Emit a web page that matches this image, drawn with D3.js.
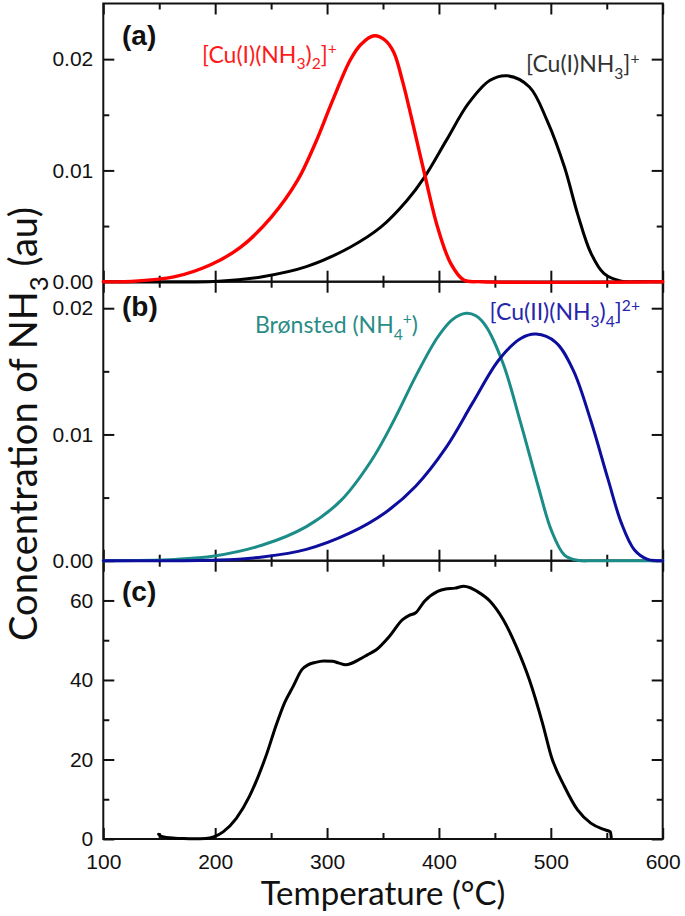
<!DOCTYPE html>
<html><head><meta charset="utf-8">
<script src="https://cdn.jsdelivr.net/npm/d3@7"></script>
<style>html,body{margin:0;padding:0;background:#fff;} svg{display:block}</style>
</head><body>
<svg id="chart" width="685" height="916"></svg>
<script>
// ---------- data ----------
const xTicks = [100, 200, 300, 400, 500, 600];
const xMinorTicks = [150, 250, 350, 450, 550];
const yTicksAB = [0, 0.01, 0.02];
const yMinorAB = [0.005, 0.015];
const yTicksC = [0, 20, 40, 60];
const yMinorC = [10, 30, 50];

// (a) [Cu(I)(NH3)2]+
const cuI2_T = [100, 125, 164, 195.4, 222.8, 250.2, 273.6, 289.3, 305, 320.6, 330, 342.1, 351.9, 359.7, 367.5, 375.3, 387.1, 398.8, 410.5, 422.2, 437.9, 600];
const cuI2_V = [0, 0.00002, 0.00045, 0.0015, 0.0031, 0.0058, 0.0091, 0.0124, 0.0163, 0.0199, 0.0213, 0.0221, 0.0217, 0.0206, 0.0180, 0.0148, 0.0097, 0.0049, 0.00165, 0.00015, 0, 0];
// (a) [Cu(I)NH3]+
const cuI1_T = [100, 203.2, 242.3, 281.5, 320.6, 348, 371.4, 387.1, 406.6, 426.2, 445.7, 461.4, 480.9, 496.6, 512.2, 523.9, 535.7, 547.4, 563, 580, 600];
const cuI1_V = [0, 0.00005, 0.00045, 0.00135, 0.0031, 0.0049, 0.0073, 0.0094, 0.0127, 0.0160, 0.0181, 0.0185, 0.0175, 0.0145, 0.0103, 0.0061, 0.0026, 0.00075, 0.00005, 0, 0];
// (b) Brønsted (NH4+)
const bron_T = [100, 164.1, 199.3, 242.3, 281.5, 312.7, 340.1, 359.7, 379.2, 398.8, 412, 424.2, 433, 441.8, 457.4, 473.1, 488.7, 500.5, 512.2, 523.9, 540, 600];
const bron_V = [0, 0.0001, 0.00037, 0.00124, 0.0027, 0.0048, 0.0080, 0.0111, 0.0146, 0.0177, 0.0191, 0.0196, 0.0194, 0.0186, 0.0156, 0.0109, 0.0059, 0.0024, 0.00045, 0.00003, 0, 0];
// (b) [Cu(II)(NH3)4]2+
const cuII_T = [100, 203.2, 242.3, 281.5, 320.6, 351.9, 379.2, 406.6, 430.1, 453.5, 473.1, 486.8, 504.4, 520, 535.7, 551.3, 563, 574.8, 586.5, 594.3, 600];
const cuII_V = [0, 0.00005, 0.0003, 0.0009, 0.0022, 0.0038, 0.0059, 0.0090, 0.0125, 0.0159, 0.0176, 0.01795, 0.0173, 0.0151, 0.0111, 0.0064, 0.0030, 0.00085, 0.0001, 0, 0];
// (c) NH3-TPD
const tpd_T = [149.5, 151, 156.3, 164, 171.9, 181, 191.5, 199.3, 207.1, 218.9, 230.6, 238.4, 246.3, 254.1, 261.9, 269.7, 277.5, 283, 289.3, 297, 304.9, 310, 316.6, 322, 328.4, 336, 344, 355.8, 367.5, 373, 379.2, 387.1, 398.8, 406, 414.4, 422.2, 428, 434, 445.7, 457.4, 469.2, 480.9, 492.6, 500.5, 512.2, 523.9, 535.7, 547.4, 553.3, 554];
const tpd_V = [1.2, 0.8, 0.4, 0.2, 0.1, 0.05, 0.1, 0.6, 1.8, 5.2, 10.7, 15.7, 21.6, 28.3, 34.2, 38.4, 42.6, 43.8, 44.4, 44.8, 44.7, 44.3, 43.8, 44.2, 45.1, 46.3, 47.6, 51, 55.2, 56.2, 56.9, 59.8, 62.3, 62.9, 63.1, 63.6, 63.2, 62.3, 59.8, 55.2, 48.4, 40, 29.1, 20.7, 13.2, 7.3, 4.0, 2.4, 1.8, 0.4];

const labels = {
  cuI2: [["[Cu(I)(NH", ""], ["3", "sub"], [")", ""], ["2", "sub"], ["]", ""], ["+", "sup"]],
  cuI1: [["[Cu(I)NH", ""], ["3", "sub"], ["]", ""], ["+", "sup"]],
  bron: [["Brønsted (NH", ""], ["4", "sub"], ["+", "sup"], [")", ""]],
  cuII: [["[Cu(II)(NH", ""], ["3", "sub"], [")", ""], ["4", "sub"], ["]", ""], ["2+", "sup"]],
  yTitle: [["Concentration of NH", ""], ["3", "sub"], [" (au)", ""]],
  xTitle: [["Temperature (°C)", ""]]
};
const panelNames = ["(a)", "(b)", "(c)"];

// ---------- layout ----------
const svg = d3.select("#chart");
const L = 103.3, R = 662.7;
const panels = [
  {top: 3.5, bottom: 281.7, dom: [0, 0.025], ticks: yTicksAB, minor: yMinorAB, fmt: d3.format(".2f"), labY: 41},
  {top: 281.7, bottom: 560.7, dom: [0, 0.0221], ticks: yTicksAB, minor: yMinorAB, fmt: d3.format(".2f"), labY: 34.5},
  {top: 560.7, bottom: 839, dom: [0, 70], ticks: yTicksC, minor: yMinorC, fmt: d3.format("d"), labY: 40.5}
];
const x = d3.scaleLinear().domain([100, 600]).range([L, R]);
const tickFont = "'Liberation Sans', Arial, sans-serif";
const textFont = "Lato, 'Open Sans', sans-serif";
const ink = "#111";

function richText(sel, parts, size) {
  let shift = 0;
  parts.forEach(([t, kind]) => {
    let target = kind === "sub" ? 0.28 * size : kind === "sup" ? -0.38 * size : 0;
    const ts = sel.append("tspan").text(t).attr("dy", target - shift);
    if (kind) ts.attr("font-size", size * 0.68);
    shift = target;
  });
}

function styleAxis(g) {
  g.select(".domain").remove();
  g.selectAll(".tick line").attr("stroke", ink).attr("stroke-width", 2);
  g.selectAll(".tick text").attr("fill", ink).attr("font-family", tickFont).attr("font-size", 21);
}

panels.forEach((p, i) => {
  const y = d3.scaleLinear().domain(p.dom).range([p.bottom, p.top]);
  p.y = y;
  const g = svg.append("g");
  g.append("rect").attr("x", L).attr("y", p.top).attr("width", R - L).attr("height", p.bottom - p.top)
    .attr("fill", "none").attr("stroke", ink).attr("stroke-width", 2);
  g.append("g").attr("transform", `translate(0,${p.bottom})`)
    .call(d3.axisBottom(x).tickValues(xTicks).tickSizeInner(-11).tickSizeOuter(0).tickPadding(15)
      .tickFormat(i === 2 ? d3.format("d") : () => "")).call(styleAxis);
  g.append("g").attr("transform", `translate(0,${p.bottom})`)
    .call(d3.axisBottom(x).tickValues(xMinorTicks).tickSizeInner(-6).tickSizeOuter(0).tickFormat(() => "")).call(styleAxis);
  g.append("g").attr("transform", `translate(0,${p.top})`)
    .call(d3.axisTop(x).tickValues(xTicks).tickSizeInner(-11).tickSizeOuter(0).tickFormat(() => "")).call(styleAxis);
  g.append("g").attr("transform", `translate(0,${p.top})`)
    .call(d3.axisTop(x).tickValues(xMinorTicks).tickSizeInner(-6).tickSizeOuter(0).tickFormat(() => "")).call(styleAxis);
  g.append("g").attr("transform", `translate(${L},0)`)
    .call(d3.axisLeft(y).tickValues(p.ticks).tickSizeInner(-11).tickSizeOuter(0).tickPadding(10).tickFormat(p.fmt)).call(styleAxis);
  g.append("g").attr("transform", `translate(${L},0)`)
    .call(d3.axisLeft(y).tickValues(p.minor).tickSizeInner(-6).tickSizeOuter(0).tickFormat(() => "")).call(styleAxis);
  g.append("g").attr("transform", `translate(${R},0)`)
    .call(d3.axisRight(y).tickValues(p.ticks).tickSizeInner(-11).tickSizeOuter(0).tickFormat(() => "")).call(styleAxis);
  g.append("g").attr("transform", `translate(${R},0)`)
    .call(d3.axisRight(y).tickValues(p.minor).tickSizeInner(-6).tickSizeOuter(0).tickFormat(() => "")).call(styleAxis);
  g.append("text").attr("x", 122).attr("y", p.top + p.labY).text(panelNames[i])
    .attr("font-family", tickFont).attr("font-weight", "bold").attr("font-size", 28).attr("fill", ink);
});

function drawLine(pi, T, V, color, w, curve) {
  const p = panels[pi];
  const line = d3.line().x((d, k) => x(T[k])).y((d, k) => p.y(V[k])).curve(curve);
  svg.append("path").datum(T).attr("d", line).attr("fill", "none").attr("stroke", color)
    .attr("stroke-width", w).attr("stroke-linejoin", "round").attr("stroke-linecap", "round");
}
const smooth = d3.curveCatmullRom.alpha(0.5);
drawLine(0, cuI1_T, cuI1_V, "#000", 3, smooth);
drawLine(0, cuI2_T, cuI2_V, "#ff0000", 3.4, smooth);
drawLine(1, bron_T, bron_V, "#1b8c87", 3, smooth);
drawLine(1, cuII_T, cuII_V, "#0e0e9e", 3, smooth);
drawLine(2, tpd_T, tpd_V, "#000", 3, d3.curveMonotoneX);

function annot(pi, T, V, parts, color) {
  const t = svg.append("text").attr("x", x(T)).attr("y", panels[pi].y(V))
    .attr("font-family", textFont).attr("font-size", 23).attr("fill", color);
  richText(t, parts, 23);
}
annot(0, 188.2, 0.01965, labels.cuI2, "#ff1a1a");
annot(0, 477.8, 0.0188, labels.cuI1, "#333");
annot(1, 235.6, 0.01803, labels.bron, "#2a8c87");
annot(1, 445.3, 0.01906, labels.cuII, "#2626ad");

const yt = svg.append("text").attr("transform", "translate(37,424) rotate(-90)").attr("text-anchor", "middle")
  .attr("font-family", textFont).attr("font-size", 38).attr("fill", ink);
richText(yt, labels.yTitle, 38);
const xt = svg.append("text").attr("x", (L + R) / 2).attr("y", 905).attr("text-anchor", "middle")
  .attr("font-family", textFont).attr("font-size", 33).attr("fill", ink);
richText(xt, labels.xTitle, 33);
</script>
</body></html>
